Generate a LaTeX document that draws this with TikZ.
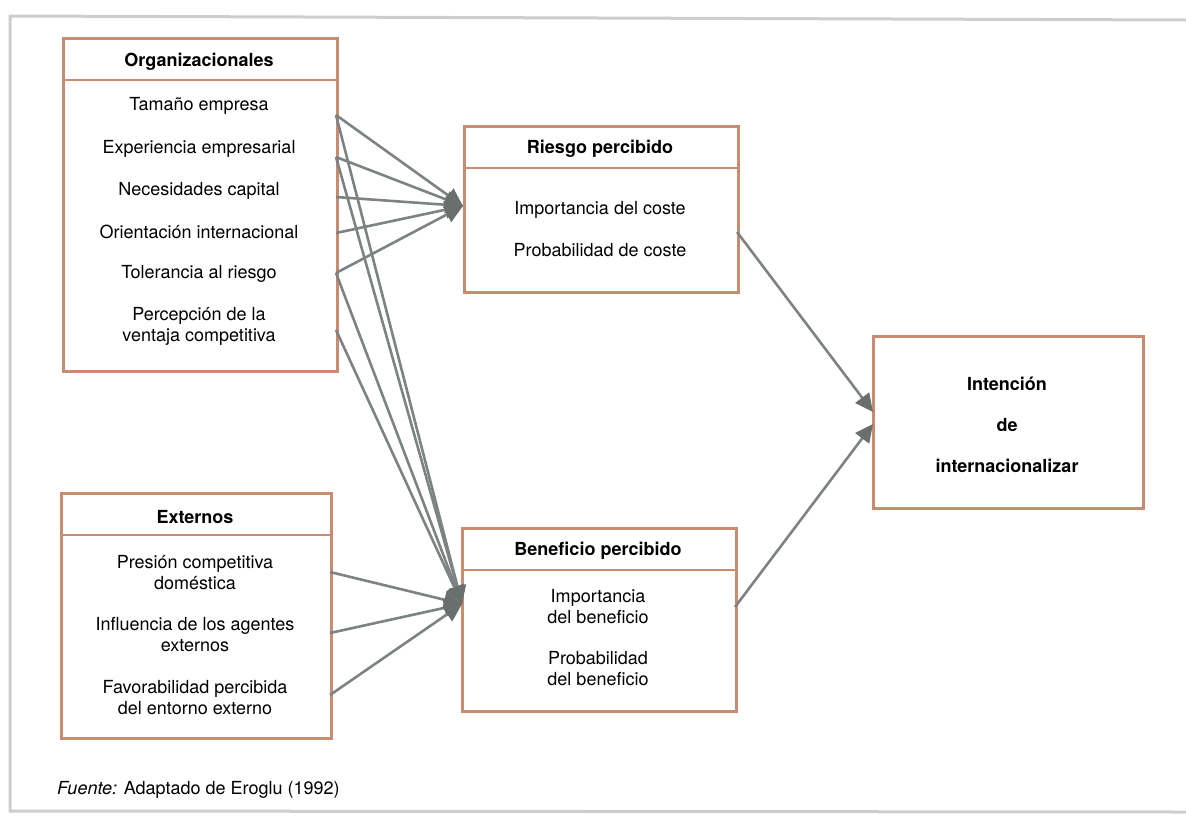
\documentclass[tikz,border=0pt]{standalone}
\usepackage{fontspec}
\setmainfont{TeX Gyre Heros}
\usetikzlibrary{arrows.meta}
\definecolor{bordc}{RGB}{201,140,112}
\definecolor{linec}{RGB}{125,130,130}
\definecolor{headc}{RGB}{105,111,109}
\definecolor{framec}{RGB}{205,205,205}
\begin{document}
\begin{tikzpicture}[x=1pt,y=-1pt,
  box/.style={draw=bordc, line width=2.6pt, fill=white, inner sep=0pt},
  divider/.style={draw=bordc, line width=2.6pt},
  txt/.style={font=\fontsize{18}{21}\selectfont, align=center, inner sep=0pt},
  hd/.style={font=\fontsize{18}{21}\selectfont\bfseries, align=center, inner sep=0pt},
  conn/.style={draw=linec, line width=2.6pt, -{Triangle[length=18pt,width=17pt,color=headc]}}]
\useasboundingbox (0,0) rectangle (1186,817);
% outer frame
\draw[framec, line width=3pt] (1186,20) -- (10,16) -- (10,811) -- (1186,812);
% boxes
\node[box, anchor=north west, minimum width=274pt, minimum height=333pt] (org) at (62,37) {};
\node[box, anchor=north west, minimum width=274pt, minimum height=166pt] (rie) at (463,125) {};
\node[box, anchor=north west, minimum width=270pt, minimum height=245pt] (ext) at (60,492) {};
\node[box, anchor=north west, minimum width=274pt, minimum height=183pt] (ben) at (461,527) {};
\node[box, anchor=north west, minimum width=270pt, minimum height=172pt] (int) at (872,335) {};
% dividers
\draw[divider] (org.west |- 0,80) -- (org.east |- 0,80);
\draw[divider] (rie.west |- 0,168) -- (rie.east |- 0,168);
\draw[divider] (ext.west |- 0,535) -- (ext.east |- 0,535);
\draw[divider] (ben.west |- 0,570) -- (ben.east |- 0,570);
% texts
\node[hd] (orgh) at (199,62) {Organizacionales};
\node[txt] (o1t) at (199,106) {Tamaño empresa};
\node[txt] (o2t) at (199,149) {Experiencia empresarial};
\node[txt] (o3t) at (199,191) {Necesidades capital};
\node[txt] (o4t) at (199,232) {Orientación internacional};
\node[txt] (o5t) at (199,274) {Tolerancia al riesgo};
\node[txt] (o6t) at (199,326) {Percepción de la\\ventaja competitiva};
\node[hd] (rieh) at (600,149) {Riesgo percibido};
\node[txt] (r1t) at (600,210) {Importancia del coste};
\node[txt] (r2t) at (600,250) {Probabilidad de coste};
\node[hd] (exth) at (195,517) {Externos};
\node[txt] (e1t) at (195,573) {Presión competitiva\\doméstica};
\node[txt] (e2t) at (195,635) {Influencia de los agentes\\externos};
\node[txt] (e3t) at (195,698) {Favorabilidad percibida\\del entorno externo};
\node[hd] (benh) at (598,551) {Beneficio percibido};
\node[txt] (b1t) at (598,607) {Importancia\\del beneficio};
\node[txt] (b2t) at (598,669) {Probabilidad\\del beneficio};
\node[hd] (inth) at (1007,425) {Intención\\[20pt]de\\[20pt]internacionalizar};
\node[anchor=west, inner sep=0pt, font=\fontsize{18}{21}\selectfont] (src) at (57,790) {\textit{Fuente:} Adaptado de Eroglu (1992)};
% connector end points
\coordinate (o1) at (336,115);
\coordinate (o2) at (336,157);
\coordinate (o3) at (336,197);
\coordinate (o4) at (336,233);
\coordinate (o5) at (336,273);
\coordinate (o6) at (336,330);
\coordinate (e1) at (330,572);
\coordinate (e2) at (330,633);
\coordinate (e3) at (330,695);
\coordinate (rtip) at (463,206);
\coordinate (btip) at (462,604);
\coordinate (rout) at (737,232);
\coordinate (bout) at (735,607);
\coordinate (itip1) at (873,412);
\coordinate (itip2) at (873,424);
% connectors
\foreach \p in {o1,o2,o3,o4,o5} \draw[conn] (\p) -- (rtip);
\foreach \p in {o1,o2,o5,o6,e1,e2,e3} \draw[conn] (\p) -- (btip);
\draw[conn] (rout) -- (itip1);
\draw[conn] (bout) -- (itip2);
\end{tikzpicture}
\end{document}
